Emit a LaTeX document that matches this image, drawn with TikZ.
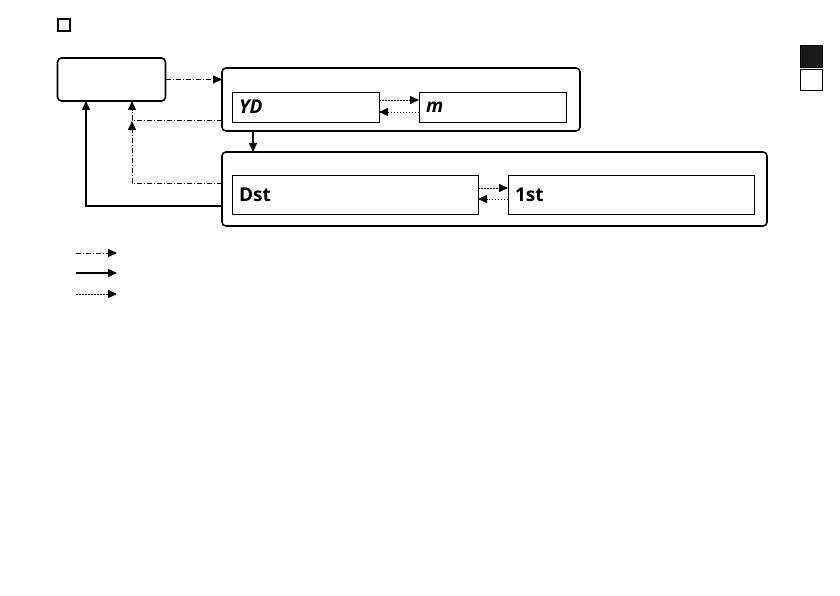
\documentclass[tikz,border=0pt]{standalone}
\usepackage{fontspec}
\setsansfont{Open Sans}
\usetikzlibrary{arrows.meta, positioning}

\begin{document}
\begin{tikzpicture}[
    x=1pt, y=-1pt,
    every node/.style={inner sep=0pt, outer sep=0pt},
    outerbox/.style={draw, line width=1.6pt, rounded corners=4pt},
    innerbox/.style={draw, line width=0.9pt, text width=#1, align=left, inner xsep=7pt,
        font=\sffamily\bfseries\fontsize{19}{21}\selectfont},
    dashdot/.style={line width=0.9pt, dash pattern=on 5pt off 2pt on 1pt off 2pt, -{Triangle[length=9pt, width=8pt]}},
    solidarrow/.style={line width=1.4pt, -{Triangle[length=9pt, width=8pt]}},
    dotarrow/.style={line width=0.9pt, dash pattern=on 1.5pt off 1.5pt, -{Triangle[length=9pt, width=8pt]}},
]
\useasboundingbox (0,0) rectangle (840,596);
% heading mark and side tabs
\node[draw, line width=2pt, minimum size=12pt] (mark) at (63.5,25.5) {};
\node[draw, fill=black!90, minimum width=22pt, minimum height=22pt] (tabA) at (811,56) {};
\node[draw, line width=0.8pt, minimum width=22pt, minimum height=21pt, below=2pt of tabA] (tabB) {};
% boxes
\node[outerbox, minimum width=108pt, minimum height=43pt] (S) at (111.5,79.5) {};
\node[outerbox, minimum width=358pt, minimum height=63pt] (Y) at (401,99.5) {};
\node[outerbox, minimum width=545pt, minimum height=74pt] (D) at (494.5,189) {};
\node[innerbox=133pt, minimum height=30pt] (YD) at (305.5,107) {\itshape YD};
\node[innerbox=133pt, minimum height=30pt] (M) at (492.5,107) {\itshape m};
\node[innerbox=232pt, minimum height=39pt] (Dst) at (355,194.5) {Dst};
\node[innerbox=232pt, minimum height=39pt] (First) at (631,194.5) {1st};
% connector ends
\coordinate (sIn) at ([xshift=20.5pt]S.south);
\coordinate (sOut) at ([xshift=-25.5pt]S.south);
\coordinate (yBack) at ([yshift=11pt]Y.south west);
\coordinate (dBack) at ([yshift=43pt]D.south west);
\coordinate (dMain) at ([yshift=20pt]D.south west);
% connectors
\draw[dashdot] (S.east) -- (S.east -| Y.west);
\draw[dashdot] (yBack) -| (sIn);
\draw[dashdot] (dBack) -| ([yshift=-1pt]sIn |- yBack);
\draw[solidarrow] (dMain) -| (sOut);
\draw[solidarrow] ([xshift=31pt]Y.south west) -- ([xshift=31pt]D.north west);
\draw[dotarrow] ([yshift=7pt]YD.east) -- ([yshift=7pt]M.west);
\draw[dotarrow] ([yshift=-5pt]M.west) -- ([yshift=-5pt]YD.east);
\draw[dotarrow] ([yshift=6.5pt]Dst.east) -- ([yshift=6.5pt]First.west);
\draw[dotarrow] ([yshift=-4.5pt]First.west) -- ([yshift=-4.5pt]Dst.east);
% legend
\coordinate (keyA) at (76,253);
\coordinate (keyB) at (76,273);
\coordinate (keyC) at (76,294);
\draw[dashdot] (keyA) -- ++(41,0);
\draw[solidarrow] (keyB) -- ++(41,0);
\draw[dotarrow] (keyC) -- ++(41,0);
\end{tikzpicture}
\end{document}
